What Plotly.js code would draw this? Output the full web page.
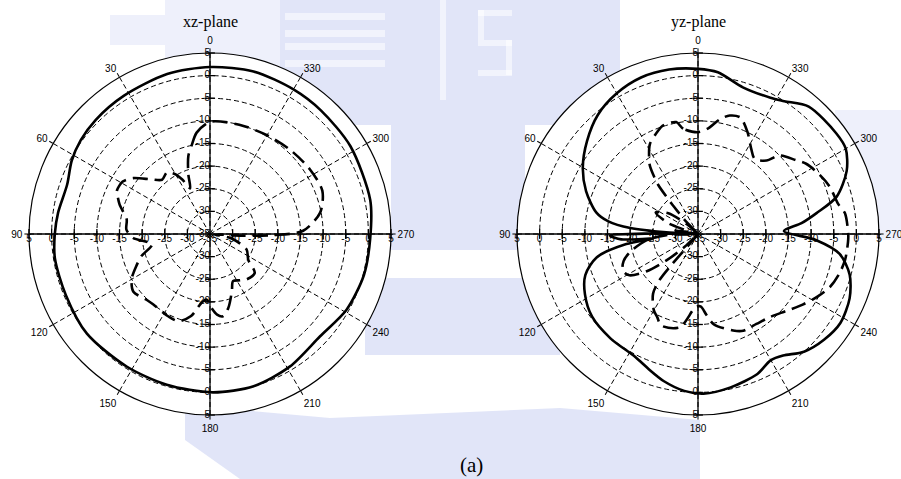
<!DOCTYPE html>
<html>
<head>
<meta charset="utf-8">
<script src="https://cdn.plot.ly/plotly-3.0.1.min.js"></script>
<style>
  html, body { margin: 0; padding: 0; background: #ffffff; }
  #chart { width: 901px; height: 479px; }
</style>
</head>
<body>
<div id="chart"></div>
<script>
// Radiation patterns (dB) for the xz and yz cuts; angles in degrees.
const xzCoAng   = [0, 15, 32, 45, 54, 62, 71, 82, 90, 99, 113, 129, 148, 164, 181, 196, 211, 227, 241, 255, 268, 282, 302, 318, 330, 345, 360];
const xzCoGain  = [1.9, 1.6, 1.0, 0.7, 0.3, -0.4, -1.6, -1.1, -0.7, -0.3, -0.4, 0.0, -0.4, -0.35, 0.0, 0.0, -0.8, -1.8, -0.5, 0.2, 0.4, 1.2, 1.6, 1.7, 1.9, 2.2, 1.9];

const xzXAng    = [0, 7.5, 11.7, 15.5, 20, 23.5, 27, 30, 35, 41.5, 47, 54, 59, 65, 68, 72, 80, 87, 93, 100, 108, 113, 120, 127, 136, 141, 153, 160, 167, 173, 177, 181, 185, 189, 194, 201, 206, 213, 219, 229, 236, 247, 258, 264, 267, 269, 272, 281, 291, 303, 316, 330, 345, 360];
const xzXGain   = [-10.2, -12.4, -15, -17.1, -21, -24, -21.5, -19.8, -18.4, -19, -17.3, -14, -12.5, -12.3, -13, -14, -16.3, -16.5, -18, -22, -19, -17.4, -15, -13.8, -14.8, -15, -14.6, -14.5, -16.4, -19.7, -20.5, -18.7, -17.1, -16.6, -18.2, -21.5, -23.4, -22.8, -22.1, -21.9, -24.8, -26.2, -30, -34, -28, -21, -14.4, -10.2, -8.4, -8.7, -9.3, -9.8, -10, -10.2];

const yzCoAng   = [0, 10, 20, 30, 40, 50, 60, 69, 78, 82, 85, 87, 88, 89.5, 91, 94, 96, 98, 103, 110, 118, 128, 140, 153, 160, 167, 175, 182, 192, 203, 210, 215, 222, 230, 238, 247, 255, 262, 267, 272, 276, 280, 285, 293, 300, 306, 319, 327, 332, 343, 353, 360];
const yzCoGain  = [1.5, 1.9, 1.8, 0.9, -0.6, -3.0, -5.6, -8.5, -12, -15, -20, -28, -35, -24, -15.5, -18, -25, -19, -12, -8.5, -6.7, -5.3, -4.9, -4.5, -3.2, -1.6, -0.2, 0.3, -0.35, -1.4, -2.8, -2.2, 0, 1.35, 2.1, 1.4, -0.3, -3.4, -8.8, -16, -12, -8.4, -3.3, 0.7, 2.7, 2.8, 2.3, 0, -0.9, -1.1, 1.0, 1.5];

const yzXAng    = [0, 8, 11, 18, 21, 28, 30, 35, 37, 39, 41, 42, 43.5, 45, 48, 55, 63, 70, 76, 82, 86, 92, 97, 105, 110, 116, 121, 126, 130, 134, 137, 140, 143, 150, 154, 158, 169, 178, 182, 186, 190, 200, 205, 213, 221, 229, 236, 242, 248, 254, 260, 267, 270, 278, 282, 290, 296, 303, 307, 314, 317, 323, 328, 334, 340, 345, 349, 355, 360];
const yzXGain   = [-12.5, -11.5, -9.8, -9.8, -10.5, -12.4, -13.4, -16.4, -18.5, -21, -26, -28.4, -30.7, -35, -32, -27, -24.5, -28, -33, -30, -35, -28, -23.5, -19.4, -17.5, -16.5, -17.3, -21, -26, -31, -35, -22, -18.5, -15.5, -14.5, -13.2, -14, -18.8, -19, -17, -14.7, -12.3, -11.4, -11.3, -10.7, -9.1, -7.1, -5.3, -3.6, -2.6, -2, -1.8, -1.8, -2.2, -3.3, -4.1, -5.1, -6.5, -7.9, -10, -12.8, -14.2, -12.8, -10, -7.6, -7.9, -9.1, -11.7, -12.5];

// Axis labelling
const angleTicks  = [0, 30, 60, 90, 120, 150, 180, 210, 240, 270, 300, 330];
const ringLevels  = [-30, -25, -20, -15, -10, -5, 0, 5];
const rMin = -35, rMax = 5;

const W = 901, H = 479;
const px = v => v / W;
const py = v => 1 - v / H;

const AX_FONT = { family: 'Arial, "Liberation Sans", sans-serif', size: 10, color: '#000' };
const SERIF = '"Times New Roman", "Liberation Serif", serif';

function polarLayout(x0, x1, y0, y1) {
  return {
    domain: { x: [x0, x1], y: [y0, y1] },
    bgcolor: '#ffffff',
    radialaxis: {
      range: [rMin, rMax], dtick: 5, tick0: 0,
      showticklabels: false, ticks: '', showline: false,
      gridcolor: '#000', gridwidth: 1, griddash: '5px,3px'
    },
    angularaxis: {
      rotation: 90, direction: 'counterclockwise',
      tickmode: 'array', tickvals: angleTicks, ticktext: angleTicks.map(String),
      ticks: 'outside', ticklen: 4, tickcolor: '#000',
      showline: true, linecolor: '#000', linewidth: 1.2,
      gridcolor: '#000', gridwidth: 1, griddash: '5px,3px',
      tickfont: AX_FONT
    }
  };
}

function frameTraces(sub) {
  const t = [];
  // solid cross through the pole
  t.push({ type: 'scatterpolar', subplot: sub, mode: 'lines', r: [rMax, rMin, rMax], theta: [0, 0, 180],
           line: { color: '#000', width: 1.3 }, hoverinfo: 'skip', showlegend: false, cliponaxis: false });
  t.push({ type: 'scatterpolar', subplot: sub, mode: 'lines', r: [rMax, rMin, rMax], theta: [90, 90, 270],
           line: { color: '#000', width: 1.3 }, hoverinfo: 'skip', showlegend: false, cliponaxis: false });
  // small ticks on the cross at each ring
  t.push({ type: 'scatterpolar', subplot: sub, mode: 'markers',
           r: ringLevels.concat(ringLevels), theta: ringLevels.map(() => 0).concat(ringLevels.map(() => 180)),
           marker: { symbol: 'line-ew', size: 7, line: { color: '#000', width: 1.3 } },
           hoverinfo: 'skip', showlegend: false, cliponaxis: false });
  t.push({ type: 'scatterpolar', subplot: sub, mode: 'markers',
           r: ringLevels.concat(ringLevels), theta: ringLevels.map(() => 90).concat(ringLevels.map(() => 270)),
           marker: { symbol: 'line-ns', size: 7, line: { color: '#000', width: 1.3 } },
           hoverinfo: 'skip', showlegend: false, cliponaxis: false });
  // ring values along the vertical axis
  const vr = ringLevels.concat(ringLevels).concat([rMin]);
  const vt = ringLevels.map(() => 0).concat(ringLevels.map(() => 180)).concat([0]);
  t.push({ type: 'scatterpolar', subplot: sub, mode: 'text', r: vr, theta: vt,
           text: vr.map(String), textposition: 'middle left', textfont: AX_FONT,
           hoverinfo: 'skip', showlegend: false, cliponaxis: false });
  // ring values along the horizontal axis
  const hr = ringLevels.concat(ringLevels).concat([rMin]);
  const ht = ringLevels.map(() => 90).concat(ringLevels.map(() => 270)).concat([90]);
  t.push({ type: 'scatterpolar', subplot: sub, mode: 'text', r: hr, theta: ht,
           text: hr.map(String), textposition: 'bottom center', textfont: AX_FONT,
           hoverinfo: 'skip', showlegend: false, cliponaxis: false });
  return t;
}

function curve(sub, ang, gain, dashed) {
  return {
    type: 'scatterpolar', subplot: sub, mode: 'lines', r: gain, theta: ang,
    line: { color: '#000', width: 2.6, shape: 'spline', smoothing: 0.8, dash: dashed ? '15px,7px' : 'solid' },
    showlegend: false
  };
}

const data = []
  .concat(frameTraces('polar'))
  .concat(frameTraces('polar2'))
  .concat([
    curve('polar', xzXAng, xzXGain, true),
    curve('polar', xzCoAng, xzCoGain, false),
    curve('polar2', yzXAng, yzXGain, true),
    curve('polar2', yzCoAng, yzCoGain, false)
  ]);

// faint background emblem behind the figure
const wm  = 'rgba(200,208,242,0.55)';
const wmL = 'rgba(205,213,244,0.35)';
const hl  = 'rgba(255,255,255,0.55)';
function box(x0, y0, x1, y1, c) {
  return { type: 'rect', xref: 'paper', yref: 'paper', layer: 'below',
           x0: px(x0), x1: px(x1), y0: py(y1), y1: py(y0), fillcolor: c, line: { width: 0 } };
}
function poly(pts, c) {
  const d = 'M ' + pts.map(p => px(p[0]) + ',' + py(p[1])).join(' L ') + ' Z';
  return { type: 'path', xref: 'paper', yref: 'paper', layer: 'below', path: d, fillcolor: c, line: { width: 0 } };
}
const shapes = [
  box(110, 15, 165, 45, wmL),
  box(165, 0, 280, 130, wmL),
  box(280, 0, 620, 125, wm),
  box(391, 125, 525, 250, wm),
  box(365, 278, 560, 355, wm),
  box(835, 110, 901, 240, wmL),
  poly([[185, 405], [330, 418], [560, 408], [700, 420], [700, 479], [240, 479], [185, 440]], wm),
  // pale strokes of the lettering
  box(285, 13, 385, 20, hl), box(285, 30, 385, 37, hl), box(285, 43, 385, 50, hl), box(285, 60, 385, 67, hl),
  box(440, 0, 446, 100, hl),
  box(478, 10, 512, 16, hl), box(478, 10, 484, 40, hl), box(478, 40, 512, 46, hl),
  box(506, 40, 512, 75, hl), box(478, 70, 512, 76, hl),
  box(380, 256, 560, 274, 'rgba(255,255,255,0.85)')
];

const layout = {
  width: W, height: H,
  margin: { l: 0, r: 0, t: 0, b: 0, pad: 0 },
  paper_bgcolor: '#ffffff',
  showlegend: false,
  polar: polarLayout(px(29), px(391), py(415), py(53)),
  polar2: polarLayout(px(517), px(879), py(415), py(53)),
  shapes: shapes,
  annotations: [
    { text: 'xz-plane', x: px(210), y: py(22), xref: 'paper', yref: 'paper', yanchor: 'middle', xanchor: 'center',
      showarrow: false, font: { family: SERIF, size: 16, color: '#000' } },
    { text: 'yz-plane', x: px(698), y: py(22), xref: 'paper', yref: 'paper', yanchor: 'middle', xanchor: 'center',
      showarrow: false, font: { family: SERIF, size: 16, color: '#000' } },
    { text: '(a)', x: px(471), y: py(465), xref: 'paper', yref: 'paper', yanchor: 'middle', xanchor: 'center',
      showarrow: false, font: { family: SERIF, size: 21, color: '#000' } }
  ]
};

Plotly.newPlot('chart', data, layout, { staticPlot: true, displayModeBar: false });
</script>
</body>
</html>
